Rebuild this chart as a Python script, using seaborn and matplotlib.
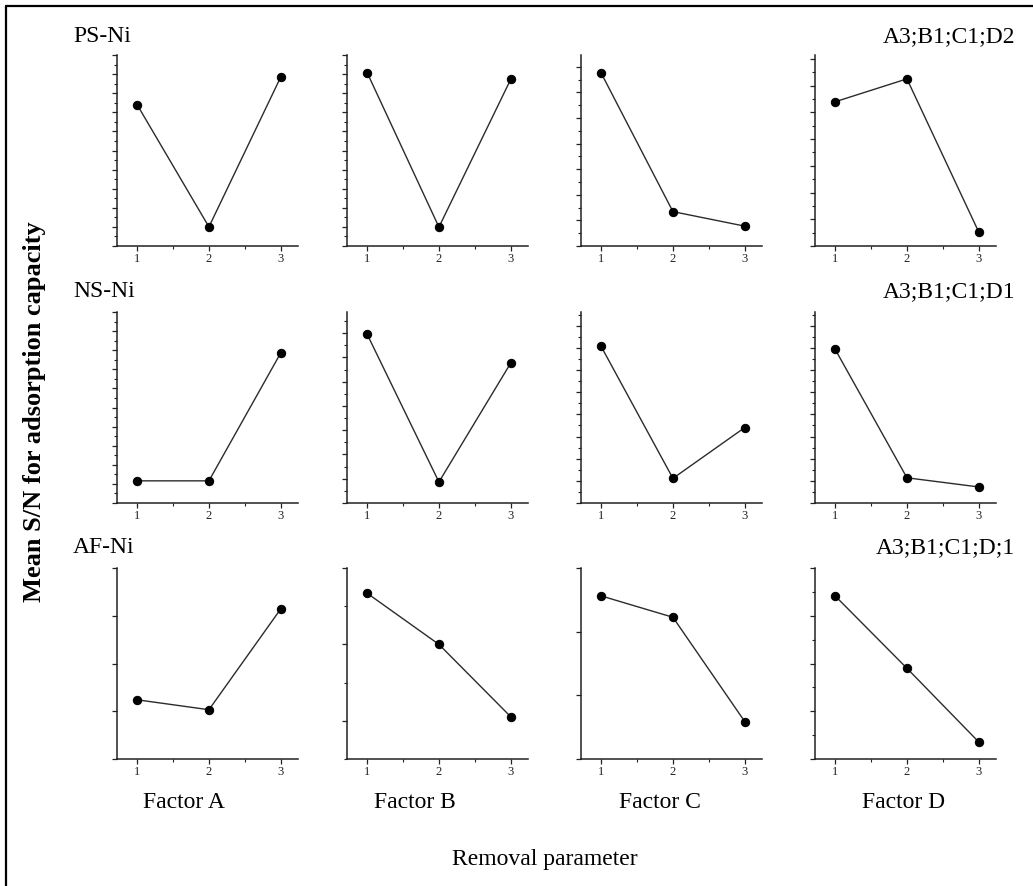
import numpy as np
import pandas as pd
import matplotlib
matplotlib.use("Agg")
import matplotlib.pyplot as plt
from matplotlib.lines import Line2D
from matplotlib.ticker import FixedLocator, NullFormatter
import seaborn as sns

# ---------------- data (relative mean S/N; y axis unlabeled) -------------
levels = [1, 2, 3]
factors = ["Factor A", "Factor B", "Factor C", "Factor D"]
materials = ["PS-Ni", "NS-Ni", "AF-Ni"]
optima = ["A3;B1;C1;D2", "A3;B1;C1;D1", "A3;B1;C1;D;1"]

ps_ni = [[0.74, 0.10, 0.885],
         [0.908, 0.099, 0.873],
         [0.906, 0.18, 0.104],
         [0.755, 0.875, 0.073]]
ns_ni = [[0.116, 0.116, 0.786],
         [0.884, 0.11, 0.733],
         [0.82, 0.129, 0.395],
         [0.805, 0.132, 0.084]]
af_ni = [[0.31, 0.258, 0.786],
         [0.868, 0.60, 0.221],
         [0.854, 0.742, 0.196],
         [0.854, 0.475, 0.089]]
rows_data = [ps_ni, ns_ni, af_ni]

# y tick spacing per panel: (major step, minor step, major offset)
tick_specs = [
    [(0.10, 0.05, 0.0), (0.10, 0.05, 0.0), (0.134, 0.067, 0.0), (0.14, 0.07, 0.0)],
    [(0.10, 0.05, 0.0), (0.127, 0.0635, 0.0), (0.116, 0.058, 0.0), (0.116, 0.058, 0.0)],
    [(0.25, None, 0.0), (0.40, 0.20, 0.2), (1/3, None, 0.0), (0.25, 0.125, 0.0)],
]

# ---------------- style -------------
sns.set_style("ticks")
plt.rcParams["font.family"] = ["Liberation Serif", "DejaVu Serif"]
plt.rcParams["axes.linewidth"] = 1.1
plt.rcParams["text.color"] = "black"
plt.rcParams["xtick.color"] = "#222222"
plt.rcParams["ytick.color"] = "#222222"

W, H = 1033, 886
fig = plt.figure(figsize=(W / 100, H / 100), dpi=100)

col_left = [117, 347, 581, 815]
ax_w = 181
row_top = [55, 312, 568]
ax_h = 191

line_color = "#2b2b2b"

for r in range(3):
    for c in range(4):
        left = col_left[c] / W
        bottom = 1 - (row_top[r] + ax_h) / H
        ax = fig.add_axes([left, bottom, ax_w / W, ax_h / H])
        df = pd.DataFrame({"level": levels, "sn": rows_data[r][c]})
        sns.lineplot(data=df, x="level", y="sn", ax=ax, color=line_color,
                     linewidth=1.0, marker="o", markersize=6,
                     markerfacecolor="black", markeredgecolor="black")
        ax.set_xlim(0.72, 3.24)
        ax.set_ylim(0, 1)
        ax.set_xlabel("")
        ax.set_ylabel("")
        for s in ["top", "right"]:
            ax.spines[s].set_visible(False)
        for s in ["left", "bottom"]:
            ax.spines[s].set_color("#222222")
        ax.set_xticks(levels)
        ax.set_xticklabels([str(v) for v in levels])
        ax.xaxis.set_minor_locator(FixedLocator([1.5, 2.5]))
        maj, mnr, off = tick_specs[r][c]
        majors = np.arange(off, 1.0001, maj)
        ax.yaxis.set_major_locator(FixedLocator(majors))
        ax.yaxis.set_major_formatter(NullFormatter())
        if mnr is not None:
            ax.yaxis.set_minor_locator(FixedLocator(np.arange(0, 1.0001, mnr)))
        else:
            ax.yaxis.set_minor_locator(FixedLocator([]))
        ax.tick_params(axis="both", which="major", direction="out", length=3.5,
                       width=0.9, color="#222222", labelsize=9, pad=1.5,
                       labelcolor="#222222")
        ax.tick_params(axis="both", which="minor", direction="out", length=2.0,
                       width=0.8, color="#222222")
        ax.tick_params(axis="y", which="both", labelleft=False)

# row labels (material) and optimum combinations
row_base = [42, 297, 553]
for r in range(3):
    fig.text(73 / W, 1 - row_base[r] / H, materials[r], fontsize=17,
             ha="left", va="baseline", color="black")
    fig.text(1015 / W, 1 - row_base[r] / H, optima[r], fontsize=17,
             ha="right", va="baseline", color="black")

# factor labels
factor_x = [184, 415, 660, 904]
for c in range(4):
    fig.text(factor_x[c] / W, 1 - 808 / H, factors[c], fontsize=17,
             ha="center", va="baseline", color="black")

fig.text(545 / W, 1 - 865 / H, "Removal parameter", fontsize=17,
         ha="center", va="baseline", color="black")
fig.text(35 / W, 1 - 412 / H, "Mean S/N for adsorption capacity", fontsize=19,
         fontweight="bold", rotation=90, ha="center", va="center", color="black")

# frame lines (left and top)
fig.add_artist(Line2D([6 / W, 6 / W], [0, 1 - 6 / H], color="black", linewidth=1.6))
fig.add_artist(Line2D([6 / W, 1], [1 - 6 / H, 1 - 6 / H], color="black", linewidth=1.6))

fig.savefig("out.png", dpi=100)
